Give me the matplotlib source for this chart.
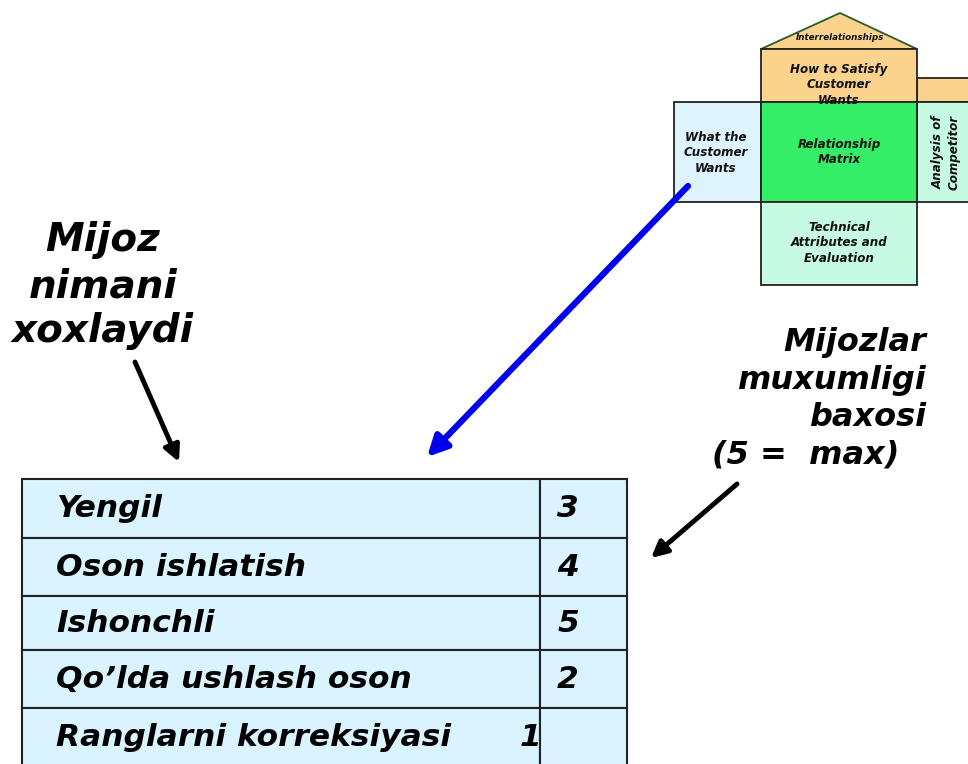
import matplotlib
matplotlib.use("Agg")
import matplotlib.pyplot as plt
from matplotlib.patches import Rectangle, Polygon

# ---- data ----
wants = ["Yengil", "Oson ishlatish", "Ishonchli", "Qo\u2019lda ushlash oson", "Ranglarni korreksiyasi"]
importance = [3, 4, 5, 2, 1]
left_title = ["Mijoz", "nimani", "xoxlaydi"]
right_title = ["Mijozlar", "muxumligi", "baxosi"]
right_title_last = "(5 =  max)"
hoq_labels = {
    "roof": "Interrelationships",
    "hows": "How to Satisfy\nCustomer\nWants",
    "whats": "What the\nCustomer\nWants",
    "matrix": "Relationship\nMatrix",
    "tech": "Technical\nAttributes and\nEvaluation",
    "comp": "Analysis of\nCompetitor",
}

W, H = 968, 764
fig = plt.figure(figsize=(W / 100, H / 100), dpi=100)
ax = fig.add_axes([0, 0, 1, 1])
ax.set_xlim(0, W)
ax.set_ylim(H, 0)
ax.axis("off")

FONT = "DejaVu Sans"

# ---- House of quality (top right) ----
peach = "#FCD38C"
green = "#33EE66"
lblue = "#DDF4FF"
mint = "#C6FAE2"
ec = "#222222"
ax.add_patch(Polygon([(761, 49), (840, 13), (917, 49)], closed=True, fc=peach, ec="#2d5a2d", lw=1.3))
ax.add_patch(Rectangle((917, 78), 60, 24, fc=peach, ec=ec, lw=1.3))
ax.add_patch(Rectangle((761, 49), 156, 53, fc=peach, ec=ec, lw=1.3))
ax.add_patch(Rectangle((674, 102), 87, 100, fc=lblue, ec=ec, lw=1.3))
ax.add_patch(Rectangle((917, 102), 60, 100, fc=mint, ec=ec, lw=1.3))
ax.add_patch(Rectangle((761, 102), 156, 100, fc=green, ec=ec, lw=1.3))
ax.add_patch(Rectangle((761, 202), 156, 83, fc=mint, ec=ec, lw=1.3))

small = dict(family=FONT, style="italic", weight="bold", fontsize=8.6, ha="center", va="center",
             color="#111111", linespacing=1.22)
ax.text(840, 37, hoq_labels["roof"], **dict(small, fontsize=6.3))
ax.text(839, 85, hoq_labels["hows"], **small)
ax.text(716, 153, hoq_labels["whats"], **small)
ax.text(839, 152, hoq_labels["matrix"], **small)
ax.text(839, 243, hoq_labels["tech"], **small)
ax.text(946, 152, hoq_labels["comp"], rotation=90, **small)

# ---- titles ----
bigL = dict(family=FONT, weight="bold", style="italic", fontsize=28, color="black")
bigR = dict(family=FONT, weight="bold", style="italic", fontsize=23, color="black")
ys = [240, 286, 331]
for t, y in zip(left_title, ys):
    ax.text(103, y, t, ha="center", va="center", **bigL)
ys2 = [342, 380, 417]
for t, y in zip(right_title, ys2):
    ax.text(926, y, t, ha="right", va="center", **bigR)
ax.text(712, 455, right_title_last, ha="left", va="center", **bigR)

# ---- arrows ----
ax.annotate("", xy=(427, 457), xytext=(688, 186),
            arrowprops=dict(arrowstyle="-|>", color="#0000EE", lw=4.5, mutation_scale=30,
                            shrinkA=0, shrinkB=0))
ax.annotate("", xy=(179, 462), xytext=(135, 362),
            arrowprops=dict(arrowstyle="-|>", color="black", lw=3.5, mutation_scale=24,
                            shrinkA=0, shrinkB=0))
ax.annotate("", xy=(651, 558), xytext=(737, 484),
            arrowprops=dict(arrowstyle="-|>", color="black", lw=3.5, mutation_scale=24,
                            shrinkA=0, shrinkB=0))

# ---- table ----
row_edges = [479, 538, 596, 650, 708, 790]
x0, xs, x1 = 22, 540, 627
cell = "#D9F4FF"
tbl = dict(family=FONT, weight="bold", style="italic", fontsize=22.5, color="black")
for i, (name, val) in enumerate(zip(wants, importance)):
    top, bot = row_edges[i], row_edges[i + 1]
    ax.add_patch(Rectangle((x0, top), xs - x0, bot - top, fc=cell, ec=ec, lw=1.5))
    ax.add_patch(Rectangle((xs, top), x1 - xs, bot - top, fc=cell, ec=ec, lw=1.5))
    yc = (top + bot) / 2 if i < 4 else top + 29
    ax.text(56, yc, name, ha="left", va="center", **tbl)
    if i < 4:
        ax.text(568, yc, str(val), ha="center", va="center", **tbl)
    else:
        ax.text(541, yc, str(val), ha="right", va="center", **tbl)

fig.savefig("out.png", dpi=100)
